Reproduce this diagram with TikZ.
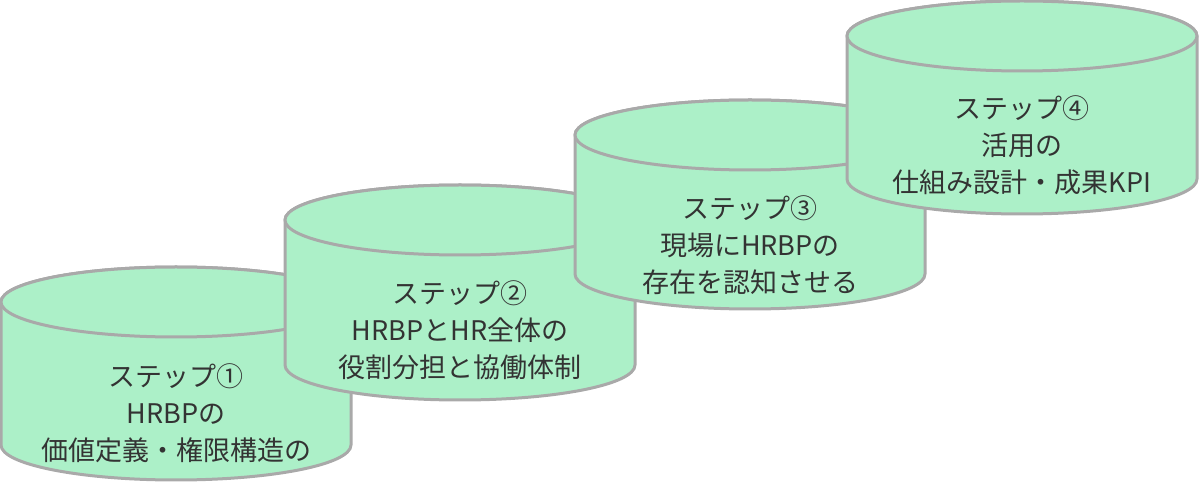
\documentclass[tikz,border=0pt]{standalone}
\usepackage{fontspec}
\setmainfont{Noto Sans CJK JP}
\usepackage{tikz}
\definecolor{drumfill}{HTML}{ACF0C8}
\definecolor{drumline}{HTML}{A9A9A9}
\definecolor{drumtext}{HTML}{333333}
\tikzstyle{drumbody}=[fill=drumfill, draw=drumline, line width=1.5pt, line join=round]
\tikzstyle{steptext}=[align=center, text=drumtext, font=\fontsize{13.5pt}{18.5pt}\selectfont]
% one drum: centre x, top centre y, bottom centre y
\newcommand{\drum}[3]{%
  \path[drumbody] ({#1-175},#2) -- ({#1-175},#3)
    arc[start angle=180, end angle=360, x radius=87.5pt, y radius=17.5pt]
    -- ({#1+175},#2)
    arc[start angle=0, end angle=180, x radius=87.5pt, y radius=17.5pt] -- cycle;
  \draw[drumbody] (#1,#2) ellipse[x radius=87.5pt, y radius=17.5pt];
}

\begin{document}
\begin{tikzpicture}[x=0.5pt, y=0.5pt]
    \useasboundingbox (0,0) rectangle (1200,482);
    \drum{176}{180}{37}
    \node[steptext] (stepone) at (176,69) {ステップ①\\HRBPの\\価値定義・権限構造の};
    \drum{460}{262}{117}
    \node[steptext] (steptwo) at (460,152) {ステップ②\\HRBPとHR全体の\\役割分担と協働体制};
    \drum{750}{347}{208}
    \node[steptext] (stepthree) at (750,237) {ステップ③\\現場にHRBPの\\存在を認知させる};
    \drum{1022}{446}{303}
    \node[steptext] (stepfour) at (1022,337) {ステップ④\\活用の\\仕組み設計・成果KPI};
  \end{tikzpicture}
\end{document}
